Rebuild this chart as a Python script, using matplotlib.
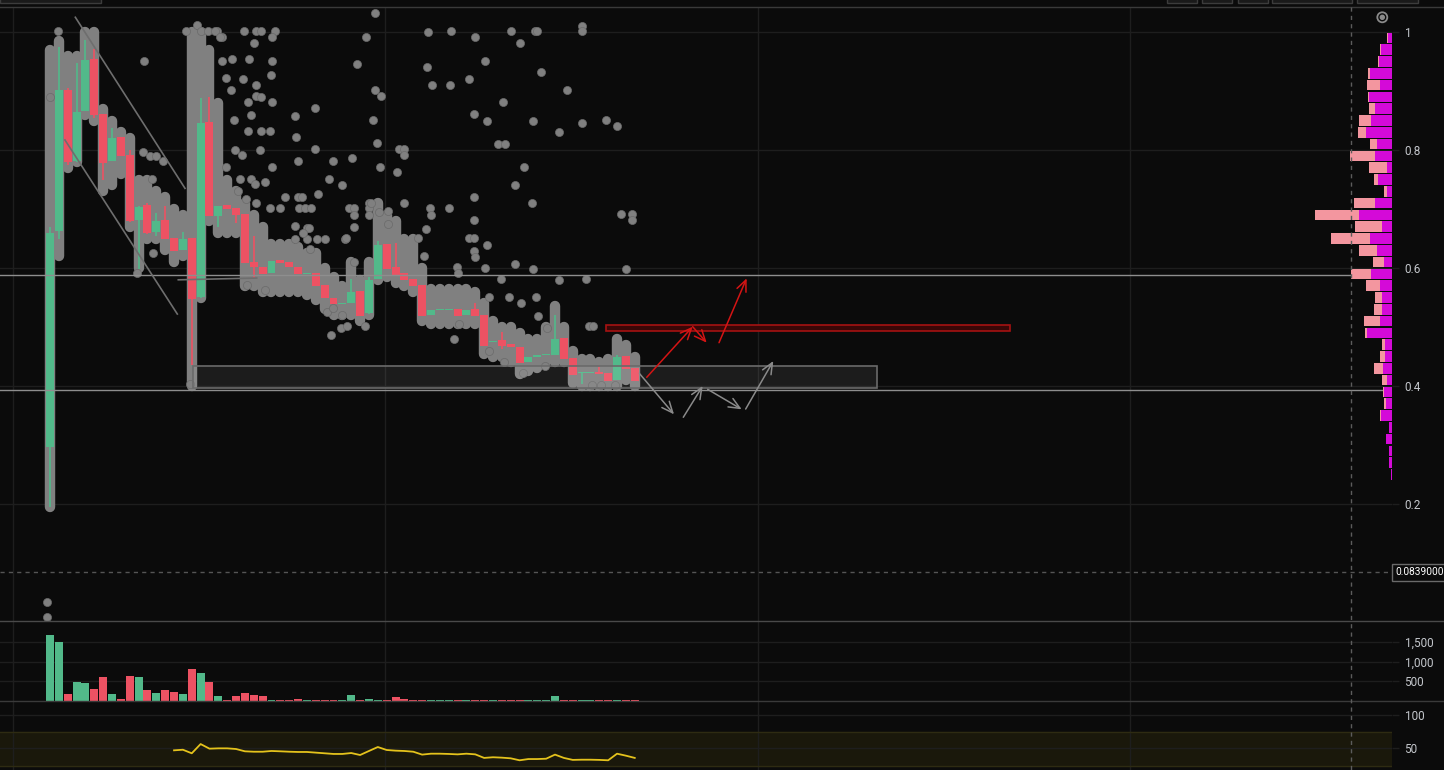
import numpy as np
import matplotlib
matplotlib.use('Agg')
import matplotlib.pyplot as plt
from matplotlib.patches import Rectangle, Circle

plt.rcParams['font.family'] = ['Roboto', 'DejaVu Sans']

# ---- candles (one per bar) ----
opens = [0.296, 0.662, 0.902, 0.781, 0.866, 0.954, 0.861, 0.781, 0.822, 0.792,
         0.681, 0.706, 0.661, 0.681, 0.651, 0.631, 0.651, 0.551, 0.848, 0.688,
         0.706, 0.702, 0.692, 0.611, 0.602, 0.592, 0.613, 0.611, 0.602, 0.590,
         0.591, 0.571, 0.550, 0.539, 0.541, 0.561, 0.523, 0.582, 0.641, 0.601,
         0.591, 0.581, 0.571, 0.520, 0.529, 0.529, 0.530, 0.520, 0.530, 0.520,
         0.474, 0.478, 0.472, 0.466, 0.441, 0.450, 0.452, 0.453, 0.481, 0.448,
         0.422, 0.422, 0.424, 0.422, 0.411, 0.451, 0.431]
closes = [0.660, 0.901, 0.780, 0.864, 0.953, 0.859, 0.778, 0.820, 0.790, 0.679,
          0.703, 0.660, 0.680, 0.649, 0.629, 0.649, 0.547, 0.845, 0.688, 0.705,
          0.700, 0.690, 0.608, 0.601, 0.590, 0.612, 0.608, 0.602, 0.590, 0.5915,
          0.570, 0.550, 0.539, 0.540, 0.559, 0.519, 0.580, 0.639, 0.599, 0.588,
          0.580, 0.570, 0.519, 0.529, 0.530, 0.530, 0.519, 0.529, 0.519, 0.468,
          0.475, 0.468, 0.466, 0.439, 0.449, 0.451, 0.453, 0.480, 0.445, 0.419,
          0.423, 0.423, 0.420, 0.409, 0.450, 0.429, 0.409]
highs = [0.670, 0.975, 0.905, 0.947, 0.986, 0.971, 0.861, 0.837, 0.822, 0.800,
         0.705, 0.710, 0.693, 0.705, 0.651, 0.661, 0.651, 0.888, 0.890, 0.705,
         0.706, 0.702, 0.692, 0.654, 0.602, 0.612, 0.613, 0.611, 0.602, 0.592,
         0.591, 0.571, 0.550, 0.540, 0.582, 0.561, 0.585, 0.645, 0.641, 0.642,
         0.591, 0.581, 0.571, 0.529, 0.531, 0.531, 0.530, 0.529, 0.540, 0.520,
         0.476, 0.492, 0.472, 0.466, 0.449, 0.452, 0.454, 0.520, 0.481, 0.448,
         0.424, 0.424, 0.432, 0.422, 0.452, 0.451, 0.431]
lows = [0.195, 0.650, 0.775, 0.780, 0.866, 0.855, 0.749, 0.781, 0.790, 0.678,
        0.598, 0.658, 0.655, 0.649, 0.629, 0.630, 0.436, 0.550, 0.688, 0.670,
        0.700, 0.677, 0.608, 0.583, 0.590, 0.592, 0.608, 0.602, 0.590, 0.590,
        0.570, 0.550, 0.539, 0.539, 0.541, 0.519, 0.522, 0.582, 0.599, 0.588,
        0.580, 0.570, 0.519, 0.520, 0.529, 0.529, 0.519, 0.520, 0.519, 0.468,
        0.474, 0.462, 0.466, 0.439, 0.441, 0.450, 0.452, 0.453, 0.445, 0.419,
        0.403, 0.422, 0.420, 0.409, 0.411, 0.429, 0.409]
volumes = [1684, 1505, 171, 479, 453, 299, 607, 171, 43, 633,
           607, 274, 197, 274, 222, 171, 812, 710, 479, 120,
           26, 120, 197, 145, 120, 17, 17, 17, 43, 17,
           17, 17, 17, 17, 145, 17, 43, 17, 17, 94,
           43, 17, 17, 17, 17, 17, 17, 17, 17, 17,
           17, 17, 17, 17, 17, 17, 17, 120, 17, 17,
           17, 17, 17, 17, 17, 17, 17]

# dense part of the trade prints around each bar
cloud_lo = [0.195, 0.62, 0.77, 0.78, 0.86, 0.85, 0.73, 0.74, 0.76, 0.67,
            0.60, 0.65, 0.65, 0.63, 0.61, 0.62, 0.40, 0.55, 0.68, 0.66,
            0.66, 0.66, 0.57, 0.57, 0.56, 0.56, 0.56, 0.56, 0.56, 0.555,
            0.545, 0.53, 0.52, 0.52, 0.52, 0.51, 0.52, 0.58, 0.585, 0.575,
            0.57, 0.56, 0.51, 0.505, 0.505, 0.505, 0.505, 0.505, 0.505, 0.455,
            0.45, 0.45, 0.44, 0.42, 0.425, 0.43, 0.44, 0.44, 0.44, 0.405,
            0.40, 0.40, 0.40, 0.40, 0.40, 0.41, 0.40]
cloud_hi = [0.97, 0.985, 0.96, 0.96, 1.00, 1.00, 0.87, 0.85, 0.83, 0.82,
            0.75, 0.75, 0.73, 0.72, 0.70, 0.69, 1.00, 1.00, 0.97, 0.88,
            0.75, 0.73, 0.71, 0.69, 0.67, 0.64, 0.64, 0.64, 0.635, 0.625,
            0.625, 0.60, 0.585, 0.57, 0.61, 0.58, 0.61, 0.71, 0.69, 0.68,
            0.65, 0.65, 0.60, 0.565, 0.565, 0.565, 0.565, 0.565, 0.56, 0.54,
            0.51, 0.50, 0.50, 0.49, 0.48, 0.48, 0.50, 0.535, 0.50, 0.46,
            0.445, 0.445, 0.44, 0.445, 0.48, 0.47, 0.45]

# scattered single trade prints (bar position, price)
prints_x = [42.7, 45.3, 48.0, 52.0, 53.0, 54.7, 55.0, 60.0, 60.0, 42.5, 49.1, 55.4, 43.1, 45.2,
            47.3, 58.4, 37.4, 51.1, 47.9, 49.3, 54.5, 60.1, 62.7, 64.0, 57.4, 50.6, 51.3, 39.4,
            40.0, 40.0, 37.3, 39.2, 53.5, 52.5,
            47.9, 54.4, 40.0, 42.9, 43.0, 45.0, 64.5, 65.7, 65.7, 47.9, 38.1, 42.4, 47.3, 47.9,
            49.3, 47.9, 48.0, 42.2, 52.5, 54.5, 65.0, 45.9, 46.1, 49.1, 50.9, 57.4, 60.5, 49.5,
            51.8, 54.9, 53.2, 55.1, 56.1, 60.8, 61.3, 46.2, 45.6, 49.5, 51.2, 55.9, 53.4, 61.2,
            62.2, 63.8,
            0.9, 10.6, 36.7, 35.7, 34.6, 36.7, 36.5, 36.9, 29.9, 27.7, 27.8, 29.9, 28.0, 31.9,
            34.1, 31.5, 33.0, 30.2, 26.5, 28.0, 28.4, 21.9, 23.3, 23.8, 25.4, 25.1, 23.0, 19.4,
            18.8, 20.5, 19.4, 22.5, 25.1, 24.9, 21.8, 23.3, 19.9, 20.4, 22.4, 23.3, 23.8, 25.1,
            20.8, 22.7, 23.8, 22.4, 24.8, 25.1, 23.7, 21.7, 20.9, 19.9, 21.4, 22.7, 23.1, 24.3,
            21.2, 22.1, 23.3, 24.8, 26.0, 28.1, 28.8, 29.5, 27.7, 29.0, 27.6, 29.0, 30.1, 31.0,
            33.3, 33.7, 34.3, 36.0, 36.0, 36.0, 37.1, 38.1, 10.5, 11.3, 12.0, 12.8, 11.5, 11.6,
            9.8, 0.0,
            15.4, 16.6, 17.1, 17.8, 18.6, 19.2,
            31.7, 32.8, 33.5, 35.6, 31.3, 31.9, 33.0, 34.3, 24.3, 22.2, 34.3, 34.3, 33.4, 36.2,
            41.5, 29.3, 29.2, 28.5,
            -0.3, -0.3, 15.8]
prints_y = [1.000, 1.001, 0.992, 1.001, 0.981, 1.001, 1.001, 1.011, 1.001, 0.941, 0.951, 0.932, 0.911, 0.911,
            0.920, 0.901, 0.891, 0.881, 0.861, 0.849, 0.850, 0.846, 0.851, 0.840, 0.831, 0.811, 0.811, 0.801,
            0.801, 0.791, 0.771, 0.763, 0.771, 0.741,
            0.721, 0.711, 0.711, 0.701, 0.690, 0.701, 0.691, 0.691, 0.681, 0.681, 0.674, 0.666, 0.651, 0.651,
            0.639, 0.628, 0.618, 0.620, 0.606, 0.599, 0.599, 0.601, 0.591, 0.600, 0.581, 0.580, 0.582, 0.551,
            0.551, 0.551, 0.541, 0.518, 0.499, 0.501, 0.501, 0.505, 0.480, 0.460, 0.441, 0.434, 0.422, 0.401,
            0.401, 0.401,
            1.002, 0.951, 1.032, 0.992, 0.946, 0.901, 0.851, 0.812, 0.871, 0.858, 0.822, 0.801, 0.781, 0.781,
            0.786, 0.751, 0.741, 0.726, 0.721, 0.721, 0.721, 1.002, 1.002, 1.001, 1.002, 0.992, 0.981, 0.992,
            1.002, 0.954, 0.951, 0.954, 0.951, 0.927, 0.921, 0.911, 0.922, 0.901, 0.881, 0.892, 0.890, 0.881,
            0.851, 0.859, 0.832, 0.832, 0.832, 0.771, 0.800, 0.791, 0.800, 0.771, 0.751, 0.751, 0.742, 0.745,
            0.731, 0.717, 0.711, 0.701, 0.701, 0.701, 0.701, 0.701, 0.671, 0.667, 0.650, 0.649, 0.649, 0.650,
            0.650, 0.701, 0.701, 0.711, 0.701, 0.690, 0.695, 0.697, 0.797, 0.790, 0.790, 0.781, 0.751, 0.625,
            0.591, 0.890,
            1.002, 1.012, 1.002, 1.002, 1.002, 0.992,
            0.486, 0.498, 0.502, 0.501, 0.526, 0.532, 0.520, 0.611, 0.563, 0.571, 0.690, 0.670, 0.651, 0.711,
            0.651, 0.633, 0.667, 0.660,
            0.034, 0.009, 0.403]

# RSI starts at bar 14
rsi_start = 14
rsi_vals = [46.5, 47.4, 42, 56, 49, 49.5, 49.5, 48.5, 45, 44.4, 44.4, 45.5, 45, 44.4, 44, 44,
            43, 42, 41, 41, 42.4, 39.4, 45.5, 51.5, 47, 46, 45.5, 44.4, 40, 41.4, 41.4, 41,
            40.4, 41.4, 40.4, 35, 36, 35.4, 34.4, 31.4, 33.3, 33.3, 33.8, 40, 35, 32, 32.3,
            32.3, 32, 31.4, 41.4, 38.4, 35]

# volume profile, bins of 0.02 from 1.00 downwards
vp_top = 1.0
vp_step = 0.02
vp_buy = [40, 110, 127, 223, 120, 230, 170, 210, 260, 150, 170, 50, 140, 50, 170, 330, 100, 220, 150,
          80, 210, 120, 100, 100, 120, 250, 70, 70, 90, 50, 80, 60, 110, 30, 60, 30, 30, 10]
vp_sell = [10, 10, 10, 17, 130, 10, 60, 120, 80, 70, 250, 180, 40, 30, 210, 440, 270, 390, 180,
           110, 200, 140, 70, 80, 160, 20, 30, 50, 90, 50, 10, 20, 10, 0, 0, 0, 0, 0]

h_levels = [0.588, 0.393]
last_price = 0.0839

# drawings (bar position, price)
channel_lines = [((2.86, 1.025), (15.24, 0.735)), ((1.69, 0.817), (14.37, 0.522)),
                 ((14.48, 0.580), (23.33, 0.583))]
gray_zone = (16.17, 93.37, 0.3961, 0.4344)
red_zone = (62.7, 108.3, 0.4927, 0.5040)
red_arrows = [((67.35, 0.4147), (72.54, 0.5005)), ((72.54, 0.5005), (74.12, 0.4734)),
              ((75.51, 0.4734), (78.63, 0.5825))]
gray_arrows = [((66.51, 0.4215), (70.43, 0.352)), ((71.48, 0.347), (73.67, 0.400)),
               ((74.23, 0.3944), (78.07, 0.3605)), ((78.52, 0.361), (81.64, 0.4424))]

BG = '#0b0b0b'
GRID = '#1e1e1e'
TXT = '#c4c7cc'
GREEN = '#52b98a'
RED = '#ed5263'
DOT = '#808080'
PINK = '#f3969f'
MAGENTA = '#d40ad8'

W, H = 1444, 770
fig = plt.figure(figsize=(W / 100, H / 100), dpi=100, facecolor=BG)


def px_box(x0, y0, x1, y1):
    return [x0 / W, 1 - y1 / H, (x1 - x0) / W, (y1 - y0) / H]


ax = fig.add_axes(px_box(0, 7.3, 1392, 620.7))
axv = fig.add_axes(px_box(0, 620.7, 1392, 701), sharex=ax)
axr = fig.add_axes(px_box(0, 701, 1392, 770), sharex=ax)

vgrid = [-4.18, 37.81, 79.91, 121.9]
for a in (ax, axv, axr):
    a.set_facecolor(BG)
    for s in a.spines.values():
        s.set_visible(False)
    a.yaxis.tick_right()
    a.tick_params(axis='y', length=5, width=1, color=GRID, pad=4, labelcolor=TXT, labelsize=8.5)
    a.tick_params(axis='x', length=0, labelbottom=False)
    a.set_xticks(vgrid)
    a.grid(True, color=GRID, lw=1)
    a.set_axisbelow(True)

ax.set_xlim(-5.643, 151.47)
ax.set_ylim(0.0022, 1.0419)
ax.set_yticks([1.0, 0.8, 0.6, 0.4, 0.2])
ax.set_yticklabels(['1', '0.8', '0.6', '0.4', '0.2'])

x = np.arange(len(opens))
o = np.array(opens)
c = np.array(closes)
cols = np.where(c >= o, GREEN, RED)

# trade prints
ax.vlines(x, cloud_lo, cloud_hi, colors=DOT, lw=7.5, capstyle='round', zorder=2)
ax.scatter(prints_x, prints_y, s=34, c=DOT, edgecolors='#6a6a6a', linewidths=0.5, zorder=2)

# candles
ax.vlines(x, lows, highs, colors=cols, lw=1.2, zorder=3)
body_lo = np.minimum(o, c)
body_h = np.maximum(np.abs(c - o), 0.0018)
ax.bar(x, body_h, bottom=body_lo, width=0.9, color=cols, zorder=4)

# levels and drawings
for lv in h_levels:
    ax.axhline(lv, color='#8e8e8e', lw=1, zorder=6)
ax.axhline(last_price, color='#555555', lw=1, ls=(0, (3, 3)), zorder=6)

for (x0, y0), (x1, y1) in channel_lines:
    ax.plot([x0, x1], [y0, y1], color='#6e6e6e', lw=1.2, zorder=6)

gx0, gx1, gy0, gy1 = gray_zone
ax.add_patch(Rectangle((gx0, gy0), gx1 - gx0, gy1 - gy0, fc=(1, 1, 1, 0.07), ec='#6a6a6a', lw=1.2, zorder=6))
rx0, rx1, ry0, ry1 = red_zone
ax.add_patch(Rectangle((rx0, ry0), rx1 - rx0, ry1 - ry0, fc='#3a0707', ec='#a51212', lw=1.2, zorder=6))

for start, end in red_arrows:
    ax.annotate('', xy=end, xytext=start,
                arrowprops=dict(arrowstyle='->,head_length=0.8,head_width=0.35', color='#d41414',
                                lw=1.1, shrinkA=0, shrinkB=0), zorder=7)
for start, end in gray_arrows:
    ax.annotate('', xy=end, xytext=start,
                arrowprops=dict(arrowstyle='->,head_length=0.8,head_width=0.35', color='#8a8a8a',
                                lw=1.1, shrinkA=0, shrinkB=0), zorder=7)

ax.annotate(f'{last_price:.7f}', xy=(1, last_price), xycoords=('axes fraction', 'data'),
            xytext=(3, 0), textcoords='offset pixels', va='center', ha='left', color='white',
            fontsize=7.3, annotation_clip=False, zorder=10,
            bbox=dict(boxstyle='square,pad=0.3', fc=BG, ec='#6a6a6a', lw=1))

# volume profile
axp = fig.add_axes(ax.get_position(), sharey=ax, zorder=1)
axp.patch.set_alpha(0)
axp.axis('off')
buy = np.array(vp_buy)
tot = buy + np.array(vp_sell)
centers = vp_top - vp_step * (np.arange(len(buy)) + 0.5)
axp.barh(centers, tot, height=vp_step * 0.9, color=PINK)
axp.barh(centers, buy, height=vp_step * 0.9, color=MAGENTA)
axp.set_xlim(13920, 0)
ax.set_ylim(0.0022, 1.0419)

# volume panel
axv.bar(x, volumes, width=0.9, color=cols)
axv.set_ylim(0, 2038)
axv.set_yticks([500, 1000, 1500])
axv.set_yticklabels(['500', '1,000', '1,500'])

# rsi panel
axr.axhspan(22.7, 73.5, color='#1a180b', zorder=0)
axr.axhline(73.5, color='#2e2b12', lw=1, zorder=0.6)
axr.axhline(22.7, color='#2e2b12', lw=1, zorder=0.6)
axr.plot(np.arange(rsi_start, rsi_start + len(rsi_vals)), rsi_vals, color='#e4c21c', lw=1.3)
axr.set_ylim(16.7, 121.2)
axr.set_yticks([50, 100])
axr.set_yticklabels(['50', '100'])

# chrome: separators, crosshair, toolbar bits
ov = fig.add_axes([0, 0, 1, 1], zorder=5)
ov.set_xlim(0, W)
ov.set_ylim(H, 0)
ov.axis('off')
ov.patch.set_alpha(0)
ov.plot([0, W], [7.3, 7.3], color='#3a3a3a', lw=1)
ov.plot([0, W], [620.7, 620.7], color='#4a4a4a', lw=1)
ov.plot([0, W], [701, 701], color='#3a3a3a', lw=1)
ov.plot([1351.3, 1351.3], [7.3, H], color='#5c5c5c', lw=1, ls=(0, (3, 3)))
for bx0, bx1 in [(0, 101), (1167, 1197), (1202, 1232), (1238, 1268), (1272, 1352), (1357, 1418)]:
    ov.add_patch(Rectangle((bx0, -4), bx1 - bx0, 7, fc='#1a1a1a', ec='#3c3c3c', lw=1))
ov.add_patch(Circle((1382.3, 17.3), 5, fill=False, ec='#8a8a8a', lw=1.3))
ov.add_patch(Circle((1382.3, 17.3), 2, color='#8a8a8a'))

fig.savefig('out.png', dpi=100, facecolor=BG)
